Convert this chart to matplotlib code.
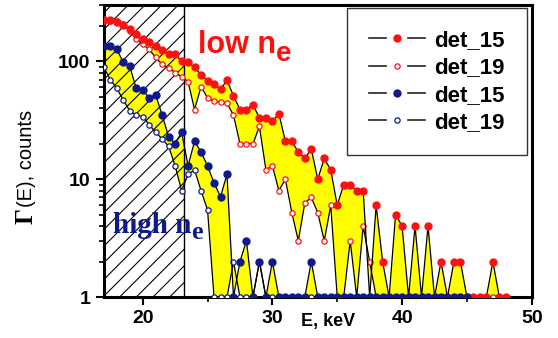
import numpy as np
import matplotlib.pyplot as plt
from matplotlib.lines import Line2D
from matplotlib.legend_handler import HandlerBase

plt.rcParams['font.family'] = ['Liberation Sans', 'DejaVu Sans']
plt.rcParams['hatch.linewidth'] = 0.8

# energy grid, keV
energy = [17.0, 17.5, 18.0, 18.5, 19.0, 19.5, 20.0, 20.5, 21.0, 21.5,
          22.0, 22.5, 23.0, 23.5, 24.0, 24.5, 25.0, 25.5, 26.0, 26.5,
          27.0, 27.5, 28.0, 28.5, 29.0, 29.5, 30.0, 30.5, 31.0, 31.5,
          32.0, 32.5, 33.0, 33.5, 34.0, 34.5, 35.0, 35.5, 36.0, 36.5,
          37.0, 37.5, 38.0, 38.5, 39.0, 39.5, 40.0, 40.5, 41.0, 41.5,
          42.0, 42.5, 43.0, 43.5, 44.0, 44.5, 45.0, 45.5, 46.0, 46.5,
          47.0, 47.5, 48.0]

# low ne, det_15 (filled red)
low_15 = [225, 225, 215, 205, 187, 170, 154, 145, 135, 125,
          115, 115, 100, 98, 89, 77, 68, 64, 58, 69,
          51, 39, 39, 43, 33, 33, 31, 36, 21, 21,
          17, 15, 18, 10, 15, 12, 6, 9, 9, 8,
          8, 1, 6, 2, 1, 5, 4, 1, 4, 1,
          4, 1, 2, 1, 2, 2, 1, 1, 1, 1,
          2, 1, 1]

# low ne, det_19 (open red)
low_19 = [219, 219, 219, 206, 181, 154, 140, 126, 108, 94,
          88, 80, 74, 67, 39, 61, 49, 46, 45, 44,
          35, 20, 20, 20, 28, 12, 13, 8, 10, 5.2,
          3, 6.3, 7, 5.2, 3, 6, 1, 1, 3, 1,
          4, 2, 1, 1, 1, 1, 1, 1, 1, 1,
          1, 1, 1, 1, 1, 1, 1, 1, 1, 1,
          1, 1, 1]

# high ne, det_15 (filled blue)
high_15 = [134, 134, 127, 98, 91, 59, 57, 49, 52, 35,
           23, 20, 25, 13, 21, 17, 13, 9.3, 7.1, 11,
           1, 2, 3, 1, 2, 1, 2, 1, 1, 1,
           1, 1, 2, 1, 1, 1, 1, 1, 1, 1,
           1, 1, 1, 1, 1, 1, 1, 1, 1, 1,
           1, 1, 1, 1, 1, 1, 1]

# high ne, det_19 (open blue)
high_19 = [89, 70, 59, 47, 38, 35, 34, 29, 25, 22,
           19, 13, 8, 11, 12, 8, 5.5, 1, 1, 1,
           2, 1, 1, 1, 2, 1, 1, 1, 1, 1,
           1, 1, 1, 1, 1, 1, 1, 1, 1, 1,
           1, 1, 1, 1, 1, 1, 1, 1, 1, 1,
           1, 1, 1, 1, 1, 1, 1]

legend_labels = ['det_15', 'det_19', 'det_15', 'det_19']

hatch_edge = 23.15
red = '#ff1010'
navy = '#0d1a8c'
yellow = '#ffff00'


class GapLineHandler(HandlerBase):
    # Origin-style legend sample: "— o —"
    def create_artists(self, legend, orig, xdescent, ydescent, width, height,
                       fontsize, trans):
        y = height / 2 - ydescent
        x0 = -xdescent
        mid = x0 + width / 2
        gap = 0.2 * width
        left = Line2D([x0, mid - gap], [y, y], color='#222222', lw=1.2)
        right = Line2D([mid + gap, x0 + width], [y, y], color='#222222', lw=1.2)
        dot = Line2D([mid], [y], ls='', marker='o',
                     mfc=orig.get_markerfacecolor(),
                     mec=orig.get_markeredgecolor(),
                     ms=orig.get_markersize(), mew=orig.get_markeredgewidth())
        for a in (left, right, dot):
            a.set_transform(trans)
        return [left, right, dot]


fig = plt.figure(figsize=(5.58, 3.38), dpi=100)
ax = fig.add_axes([0.186, 0.121, 0.767, 0.864])

e_low = np.array(energy)
e_high = e_low[:len(high_15)]

ax.fill_between(e_low, low_15, low_19, color=yellow, lw=0, zorder=1)
ax.fill_between(e_high, high_15, high_19, color=yellow, lw=0, zorder=1)

ax.axvspan(17, hatch_edge, facecolor='none', edgecolor='black', hatch='//',
           lw=0, zorder=2)
ax.axvline(hatch_edge, color='black', lw=1.0, zorder=2)

styles = [dict(ms=5, mfc=red, mec=red, mew=1.0),
          dict(ms=3.8, mfc='white', mec=red, mew=0.9),
          dict(ms=5, mfc=navy, mec=navy, mew=1.0),
          dict(ms=3.8, mfc='white', mec=navy, mew=0.9)]
series = [(e_low, low_15), (e_low, low_19), (e_high, high_15), (e_high, high_19)]
handles = []
for (xs, ys), st, z in zip(series, styles, [4, 3, 4, 3]):
    ln, = ax.plot(xs, ys, color='black', lw=0.9, marker='o', zorder=z, **st)
    handles.append(ln)

ax.set_yscale('log')
ax.set_xlim(17, 50)
ax.set_ylim(1, 300)
ax.set_xticks([20, 30, 40, 50])
ax.set_xticks([25, 35, 45], minor=True)
ax.set_yticks([1, 10, 100])
ax.set_yticklabels(['1', '10', '100'])
ax.tick_params(which='major', direction='out', length=6, width=1.5,
               labelsize=14)
ax.tick_params(which='minor', direction='out', length=3.5, width=1.2)
for lab in ax.get_xticklabels() + ax.get_yticklabels():
    lab.set_fontweight('bold')
for s in ax.spines.values():
    s.set_linewidth(2.2)

ax.set_xlabel('E, keV', fontsize=13, fontweight='bold')
ax.xaxis.set_label_coords(0.523, -0.055)

fig.text(0.047, 0.386, '\u0393', family='Liberation Serif', fontsize=18,
         fontweight='bold', rotation=90, ha='center', va='top')
fig.text(0.047, 0.388, '(E), counts', fontsize=14.5, rotation=90,
         ha='center', va='bottom')

t_low = ax.text(0.22, 0.835, 'low n', transform=ax.transAxes,
                color=red, fontsize=22, fontweight='bold')
ax.annotate('e', xy=(1, 0), xycoords=t_low, xytext=(0, -5),
            textcoords='offset points', ha='left', va='bottom',
            color=red, fontsize=20, fontweight='bold')
t_high = ax.text(0.021, 0.22, 'high n', transform=ax.transAxes,
                 family='Liberation Serif', color=navy, fontsize=21,
                 fontweight='bold', zorder=5)
ax.annotate('e', xy=(1, 0), xycoords=t_high, xytext=(0, -4),
            textcoords='offset points', ha='left', va='bottom',
            family='Liberation Serif', color=navy, fontsize=19,
            fontweight='bold', zorder=5)

leg = ax.legend(handles, legend_labels, loc='upper right',
                bbox_to_anchor=(0.988, 0.99),
                handler_map={Line2D: GapLineHandler()},
                prop={'weight': 'bold', 'size': 16}, frameon=True,
                fancybox=False, borderpad=1.0, handlelength=2.5,
                handletextpad=0.4, labelspacing=0.28, borderaxespad=0)
leg.get_frame().set_edgecolor('black')
leg.get_frame().set_linewidth(1.0)

fig.savefig('out.png', dpi=100)
